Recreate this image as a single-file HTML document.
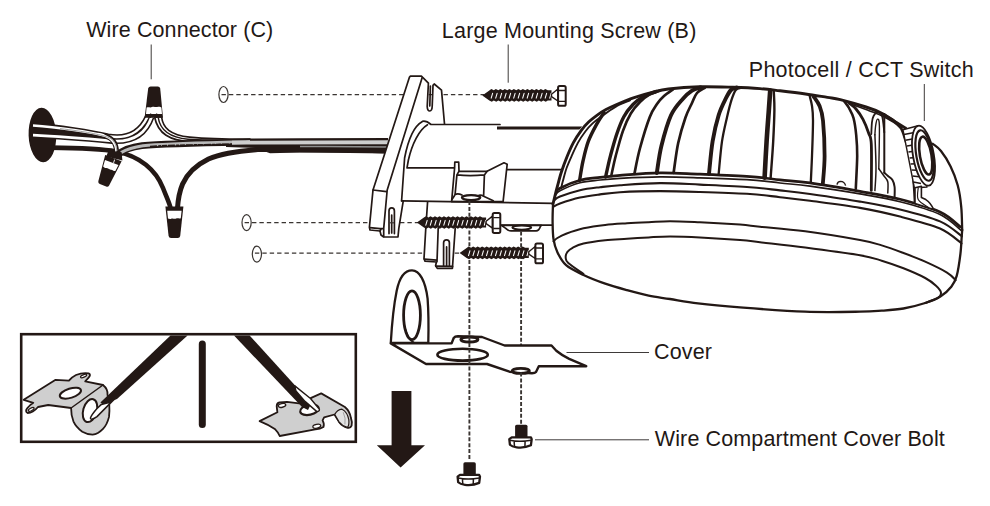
<!DOCTYPE html>
<html>
<head>
<meta charset="utf-8">
<title>Installation diagram</title>
<style>
html,body{margin:0;padding:0;background:#fff;}
body{width:990px;height:506px;overflow:hidden;font-family:"Liberation Sans",sans-serif;}
svg{display:block;}
.t{font-family:"Liberation Sans",sans-serif;font-size:21.5px;fill:#231815;}
.ln{fill:none;stroke:#231815;stroke-width:1.7;stroke-linecap:round;stroke-linejoin:round;}
.lw{fill:#fff;stroke:#231815;stroke-width:1.7;stroke-linecap:round;stroke-linejoin:round;}
.thin{fill:none;stroke:#3a3532;stroke-width:1.2;}
.lead{fill:none;stroke:#3e3a39;stroke-width:1;}
.dash{fill:none;stroke:#3a3532;stroke-width:1.2;stroke-dasharray:4.4 3;}
.k{fill:#231815;stroke:none;}
</style>
</head>
<body>
<svg width="990" height="506" viewBox="0 0 990 506">
<rect width="990" height="506" fill="#fff"/>
<!-- ===== LABELS ===== -->
<g id="labels">
<text class="t" x="86.2" y="37" textLength="187" lengthAdjust="spacing">Wire Connector (C)</text>
<text class="t" x="441.8" y="37.7" textLength="254.5" lengthAdjust="spacing">Large Mounting Screw (B)</text>
<text class="t" x="748.8" y="77" textLength="225" lengthAdjust="spacing">Photocell / CCT Switch</text>
<text class="t" x="654" y="359" textLength="58" lengthAdjust="spacing">Cover</text>
<text class="t" x="654.8" y="446" textLength="290" lengthAdjust="spacing">Wire Compartment Cover Bolt</text>
<path class="lead" d="M151.2 44.5V79.3M508.2 44.5V82.7M924.3 84V121M566.5 352.5H649M535 439.8H649"/>
</g>
<!-- ===== DASHED GUIDES ===== -->
<g id="guides">
<ellipse class="thin" cx="223.5" cy="94.5" rx="4.6" ry="8"/>
<ellipse class="thin" cx="246.6" cy="222.6" rx="4.6" ry="8"/>
<ellipse class="thin" cx="256.9" cy="254.1" rx="4.6" ry="8"/>
<path class="dash" d="M221.5 94.6H484M244.6 222.7H418M254.9 253.2H462"/>
</g>
<!-- ===== WIRES ===== -->
<g id="wires" fill="none" stroke-linecap="butt" stroke-linejoin="round">
<!-- wall hole -->
<ellipse cx="42.4" cy="135" rx="13.8" ry="27.2" fill="#231815" transform="rotate(-2 42.4 135)"/>
<!-- lower black wires to bottom connector -->
<path d="M50 147.6C75 147.9 100 148.4 116 151.4C140 156 156 170 163 188C166.4 197 169.6 203 170.8 209" stroke="#231815" stroke-width="4.6"/>
<path d="M177.4 209C178 200 179.6 191 182.6 184C188 172 197 164.6 208.5 159C220 154 238 151 257.7 149.6C275 149.4 300 150 330 150.2C355 150.4 375 150.6 388 150.9" stroke="#231815" stroke-width="5"/>
<!-- main bundle black base right side -->
<path d="M226 140L250 138.6L300 138.2L388 138V153.4C360 152.6 330 152.4 300 152.6L270 153.2L256 148L226 147Z" fill="#231815"/>
<!-- wedge filler between the two upper wires -->
<path d="M33 126C60 128 95 134 116 139.5L118 142.5C95 140 60 137 33 135.5Z" fill="#231815"/>
<!-- left tube wires (black outlines) -->
<path d="M33 125.4C58 127 92 132.4 108 136.2C126 139.4 140 133 147.4 117" stroke="#231815" stroke-width="5.6"/>
<path d="M33 135.2C58 136.4 92 139.2 112 141C130 142.2 145 136 151.6 117" stroke="#231815" stroke-width="5.8"/>
<path d="M33 125.4C58 127 92 132.4 108 136.2C126 139.4 140 133 147.4 117" stroke="#fff" stroke-width="2.5"/>
<path d="M33 135.2C58 136.4 92 139.2 112 141C130 142.2 145 136 151.6 117" stroke="#fff" stroke-width="2.7"/>
<!-- thin shaded wire curling down into C2 -->
<path d="M104 135.4C112 138 116 142 116.6 152" stroke="#231815" stroke-width="5"/>
<path d="M98 133.8C111 137 115.8 141.5 116.4 152" stroke="#fff" stroke-width="2.2"/>
<path d="M60 128.6C85 131.5 100 134.5 108 137.2C114 139.8 116.4 144 116.8 152" stroke="#8a8a8a" stroke-width="0.8"/>
<!-- right tube from top connector (tapered) -->
<path d="M161.6 117C163 128 170 135 189.6 137.2C205 138.6 225 139.3 250 139.2L250 139.8C230 141.4 205 142 190 141.6C170 140.6 158 134 154.6 117Z" fill="#fff" stroke="#231815" stroke-width="1.7"/>
<path d="M158.2 117.5C160 129.5 168 137.4 188 139.2C205 140.4 220 140.4 236 139.9" stroke="#231815" stroke-width="1.5"/>
<!-- main gray cable -->
<path d="M118 154.5C123 150 132 146.8 142 145.6C165 143.6 200 143 250 142" stroke="#231815" stroke-width="6.6"/>
<path d="M121 152.6C126 149.6 134 147 143 145.7C165 143.6 200 143 250 141.6" stroke="#b9b9b9" stroke-width="3"/>
<path d="M150 146.5C170 145.2 200 144.8 240 144" stroke="#231815" stroke-width="1.6" stroke-dasharray="7 1.2 3 0.8 5 1"/>
<path d="M232 142.7C290 142.3 350 142.2 388 142.2" stroke="#cdcdcd" stroke-width="3.9"/>
<path d="M300 146.6C330 146.4 360 146.6 388 147" stroke="#8f8f8f" stroke-width="1.5"/>
<!-- connectors -->
<g id="c1">
<path d="M148.2 88.5Q148.6 86.6 150.6 86.6H157.8Q159.8 86.6 160.2 88.5L163 117.8H144.6Z" fill="#231815"/>
<path d="M146.6 107.6C148.5 106.6 150 108 152 107C154 106.2 156 107.6 158 106.8C159.6 106.4 160.8 107.2 161.4 107.4L162 114H146Z" fill="#fff"/>
<path d="M150.6 113.6V118M156.6 113.6V118" stroke="#231815" stroke-width="1.3"/>
</g>
<g id="c3">
<path d="M174.2 196V208" stroke="#fff" stroke-width="1.3"/>
<path d="M165.4 206.4H183.4L180.2 236Q179.8 238 177.8 238H171Q169 238 168.6 236Z" fill="#231815"/>
<path d="M167.2 210.8H181.6L180.8 218.2C179.2 219.2 177.8 217.8 176.2 218.6C174.4 219.4 172.8 218 171.2 218.8C169.8 219.4 168.6 218.6 168 218.4Z" fill="#fff"/>
</g>
<path d="M108.6 150.6L121.6 152.2L122.4 160.4L106.2 156.6Z" fill="#231815"/>
<g id="c2" transform="translate(113.4 158.2) rotate(21)">
<path d="M-8.8 0H8.8L5.8 27Q5.4 29 3.4 29H-3.4Q-5.4 29 -5.8 27Z" fill="#231815"/>
<path d="M-7.2 4.6H7.2L6.4 11.2C4.8 12.2 3.4 10.8 1.8 11.6C0 12.4 -1.6 11 -3.2 11.8C-4.6 12.4 -5.8 11.6 -6.6 11.4Z" fill="#fff"/>
<path d="M1.6 0.8L1.8 4.2" stroke="#fff" stroke-width="0.9"/>
</g>
</g>
<!-- ===== MOUNTING BRACKET / ARM ===== -->
<defs>
<g id="screw">
  <path d="M0 0L7.0 -5L9.03 -6.3L11.50 -5.1L13.53 -6.3L16.00 -5.1L18.02 -6.3L20.50 -5.1L22.52 -6.3L25.00 -5.1L27.02 -6.3L29.50 -5.1L31.52 -6.3L34.00 -5.1L36.02 -6.3L38.50 -5.1L40.52 -6.3L43.00 -5.1L45.02 -6.3L47.50 -5.1L49.52 -6.3L52.00 -5.1L54.02 -6.3L56.50 -5.1L58.52 -6.3L61.00 -5.1L63.02 -6.3L65.50 -5.1L69.2 -5.1L69.2 5.1L65.50 5.1L63.48 6.3L61.00 5.1L61.00 5.1L58.98 6.3L56.50 5.1L56.50 5.1L54.48 6.3L52.00 5.1L52.00 5.1L49.98 6.3L47.50 5.1L47.50 5.1L45.48 6.3L43.00 5.1L43.00 5.1L40.98 6.3L38.50 5.1L38.50 5.1L36.48 6.3L34.00 5.1L34.00 5.1L31.98 6.3L29.50 5.1L29.50 5.1L27.48 6.3L25.00 5.1L25.00 5.1L22.98 6.3L20.50 5.1L20.50 5.1L18.48 6.3L16.00 5.1L16.00 5.1L13.97 6.3L11.50 5.1L11.50 5.1L9.47 6.3L7.00 5.1Z" fill="#231815"/>
  <path d="M8.90 2.7L10.30 -2.1M13.40 2.7L14.80 -2.1M17.90 2.7L19.30 -2.1M22.40 2.7L23.80 -2.1M26.90 2.7L28.30 -2.1M31.40 2.7L32.80 -2.1M35.90 2.7L37.30 -2.1M40.40 2.7L41.80 -2.1M44.90 2.7L46.30 -2.1M49.40 2.7L50.80 -2.1M53.90 2.7L55.30 -2.1M58.40 2.7L59.80 -2.1M62.90 2.7L64.30 -2.1M67.40 2.7L68.80 -2.1" fill="none" stroke="#fff" stroke-width="1.05" stroke-linecap="round"/>
  <path d="M69.2 -1.2L75.6 -6.4V5.6L69.2 1.2Z" fill="#fff" stroke="#231815" stroke-width="1.4" stroke-linejoin="round"/>
  <rect x="75.8" y="-9.4" width="7.6" height="19.8" rx="1.6" fill="#fff" stroke="#231815" stroke-width="2"/>
  <path d="M76.4 -4.9H83M76.4 6H83" stroke="#231815" stroke-width="1.4" fill="none"/>
</g>
</defs>
<g id="bracket">
<!-- lower bracket below arm -->
<path class="lw" d="M427.6 201.7L425.8 228L424 258.6L425 261.1L436.4 262L435.6 265.8L437.3 268.4H452.4L455.2 228.2H440L440 201.7Z" style="stroke:none"/>
<path class="ln" d="M427.6 201.7L425.8 228L424 258.6L425 261.1L436.4 262L435.6 265.8L437.3 268.4H452.4L455.2 228.2"/>
<path class="ln" d="M438.2 228.4L437 261.6M424.4 259.2L436.6 260.2M435.8 266.2L452.6 266.4" stroke-width="1.3"/>
<path class="ln" d="M443.6 266.2V242.8Q443.6 239.8 446.5 239.8Q449.4 239.8 449.4 242.8V266.2M446.6 246.9V266"/>
<!-- lower rail + tab -->
<path d="M501.3 225.2H552V203H501.3Z" fill="#fff"/>
<path class="lw" d="M501.3 225.4L505.8 228.4Q508 230.9 511.1 230.9H536Q539 230.6 540.4 226.4L541.4 225.4Z"/>
<ellipse cx="521.8" cy="227.6" rx="9.4" ry="2.1" fill="#fff" stroke="#231815" stroke-width="2"/>
<path class="ln" d="M501.3 225.2H552"/>
<!-- mounting plate -->
<path class="lw" d="M409.5 77.1L410.4 76.2H421.6L422.4 77.1L428.4 83.2L427.2 106.5Q427.4 111 429.8 111Q432 110.8 432.2 106.5L433 85.4L434.2 84L441.5 90.2L444.5 124L430 160L403.3 200.7L398.8 228.3L398 237H383.7L381 235L380 231L370 230L369.4 227.4L373 190Z"/>
<path class="ln" d="M422.2 77.6L387.2 190L383.7 228.3V236.5M373 190L386.6 191.6M369.8 227.6L380 228.6L383.7 228.3M380 231L381.2 228.8"/>
<path class="ln" d="M430.4 86L429.8 106" stroke-width="1.2"/>
<path class="ln" d="M389 233.6V211Q389 207.8 391.7 207.8Q394.4 207.8 394.4 211V233.6M391.7 215V233"/>
<path class="dash" d="M389.6 222.8H394" />
<!-- arm housing -->
<path d="M431 124.5C428 122 425.4 120.6 422.4 121.4C414 126 408 140 404.6 158L401.6 200.8L560 203.3V124.5Z" fill="#fff"/>
<path class="ln" d="M500 124.5H431C428 122 425.4 120.6 422.4 121.4C414 126 408 140 404.6 158L401.6 200.8"/>
<path class="ln" d="M427.5 124.8C419 130 412 144 408.4 160L407 167.8H454.4"/>
<path d="M497 128H582" fill="none" stroke="#231815" stroke-width="3.2"/>
<path class="ln" d="M507.2 169.6H562"/>
<!-- bump / boss on arm -->
<path class="lw" d="M454.6 168L454.8 162.1H458.7L459 171.3H487.1L504 162.8L507.2 164.2L503.1 201.6H451.6Z"/>
<path class="ln" d="M456.9 174.9Q470 176.4 484.4 174.9L483.6 196.2L493.3 200.7M456.9 174.9L455.1 194.4Q454 197 451.8 199.6M484.4 174.9L487.1 171.3M456.9 174.9L458.9 171.3M455.1 194.4Q458 193 462 195M483.6 196.2Q481 194.6 479 195.4"/>
<ellipse cx="471.1" cy="197.6" rx="9.2" ry="2.5" fill="#fff" stroke="#231815" stroke-width="2.2"/>
<path class="ln" d="M401.6 200.9L553 203.3"/>
<!-- vertical dashed guides -->
<path class="dash" d="M469.4 201V340M521.1 231.5V345" stroke-width="1.5" style="stroke-width:1.9;stroke-dasharray:4 1.9"/>
<!-- screws -->
<use href="#screw" transform="translate(482.3 95.4)"/>
<use href="#screw" transform="translate(416.9 222.5)"/>
<use href="#screw" transform="translate(459.6 252.9)"/>
</g>
<!-- ===== LAMP HEAD ===== -->
<g id="lamp">
<path d="M553.0 204.0C553.5 202.2 555.0 197.4 556.0 193.0C557.0 188.6 558.1 182.9 559.3 177.6C560.5 172.3 561.9 165.6 563.3 161.0C564.6 156.4 565.8 153.8 567.4 150.0C569.0 146.2 570.5 142.6 573.2 138.5C575.9 134.4 579.1 129.6 583.4 125.2C587.7 120.8 593.4 115.7 599.0 112.0C604.6 108.3 609.7 106.0 617.0 103.0C624.3 100.0 634.1 96.3 642.7 94.0C651.3 91.7 658.9 90.3 668.4 89.0C677.9 87.7 688.9 86.8 699.6 86.4C710.3 86.1 719.4 86.2 732.8 86.9C746.2 87.6 768.2 89.6 780.0 90.8C791.8 92.0 795.8 92.8 803.7 94.0C811.6 95.2 819.5 96.3 827.4 98.0C835.3 99.7 843.1 101.8 851.0 104.0C858.9 106.2 867.8 108.5 874.9 111.0C882.0 113.5 888.6 116.3 893.7 119.0C898.8 121.7 901.5 126.1 905.5 127.3C909.5 128.5 913.5 123.2 918.0 126.0C922.5 128.8 929.0 139.6 932.8 143.8C936.6 148.0 938.0 147.2 941.0 151.0C944.0 154.8 947.8 160.7 950.6 166.4C953.4 172.1 955.9 178.6 957.7 185.3C959.5 192.0 960.5 199.2 961.2 206.6C962.0 214.0 962.0 226.1 962.2 230.0C962.1 231.1 962.0 232.7 961.7 236.7C961.4 240.7 961.2 247.5 960.4 254.0C959.6 260.5 958.2 270.4 956.7 275.9C955.2 281.3 954.0 283.3 951.3 286.7C948.6 290.1 944.8 293.8 940.4 296.5C936.0 299.2 931.4 301.0 925.2 303.0C919.1 305.0 910.8 307.2 903.5 308.5C896.2 309.8 889.0 310.2 881.7 310.7C874.5 311.2 872.8 311.5 860.0 311.7C847.2 311.9 825.0 312.4 805.0 311.7C785.0 311.0 757.8 308.8 740.0 307.4C722.2 306.0 709.7 304.8 698.0 303.4C686.3 302.0 678.2 300.3 670.0 299.0C661.8 297.7 655.9 297.2 648.7 295.7C641.5 294.2 634.2 292.2 627.0 290.2C619.8 288.2 612.5 286.2 605.2 283.7C598.0 281.2 590.0 278.1 583.5 275.0C577.0 271.9 570.5 269.0 566.1 265.2C561.8 261.4 559.5 256.6 557.4 252.2C555.3 247.8 554.3 244.2 553.5 239.1C552.7 234.0 552.7 227.5 552.6 221.7C552.5 215.8 552.9 206.9 553.0 204.0Z" fill="#fff" stroke="none"/>
<path d="M553.0 204.0C553.4 202.3 554.7 196.9 555.4 194.0C556.1 191.1 556.4 190.0 557.4 186.3C558.4 182.6 559.8 176.8 561.4 172.0C563.0 167.2 564.8 162.1 566.8 157.2C568.8 152.3 571.0 147.1 573.4 142.6C575.8 138.1 578.8 133.7 581.3 130.3C583.8 126.9 586.0 124.5 588.6 122.0C591.2 119.5 594.0 117.4 596.9 115.3C599.8 113.2 602.9 111.3 606.0 109.6C609.1 107.9 610.8 107.0 615.5 105.0C620.2 103.0 628.1 99.7 634.2 97.6C640.3 95.5 646.3 93.8 652.0 92.4C657.7 91.0 660.5 89.9 668.4 89.0C676.3 88.1 688.9 87.1 699.6 86.8C710.3 86.5 722.7 87.0 732.8 87.3C742.9 87.6 752.1 88.0 760.0 88.6C767.9 89.2 772.4 89.9 780.0 90.8C787.6 91.7 797.6 92.9 805.5 94.0C813.4 95.1 821.6 96.5 827.4 97.4C833.2 98.3 833.9 98.0 840.3 99.6C846.7 101.2 859.2 104.8 866.0 107.0C872.8 109.2 876.1 110.4 881.2 113.0C886.3 115.6 892.4 120.1 896.4 122.6C900.4 125.1 904.0 127.1 905.5 128.0" fill="none" stroke="#231815" stroke-width="2.9" stroke-linecap="round" stroke-linejoin="round" />
<path d="M561.4 187.4C561.6 186.5 561.7 185.3 562.6 182.1C563.5 178.9 565.0 172.5 566.6 168.0C568.2 163.5 570.1 159.4 572.0 155.2C573.9 151.0 575.8 146.6 578.0 142.6C580.2 138.6 583.1 134.5 585.5 131.3C587.9 128.1 590.0 125.8 592.6 123.4C595.2 121.0 597.2 119.6 601.0 116.8C604.8 114.0 610.7 109.5 615.5 106.8C620.3 104.1 627.6 101.5 630.0 100.4" fill="none" stroke="#231815" stroke-width="1.9" stroke-linecap="round" stroke-linejoin="round" />
<path d="M852.0 104.6C854.3 105.4 861.1 107.8 866.0 109.6C870.9 111.4 876.6 113.3 881.2 115.4C885.8 117.5 890.4 120.2 893.7 122.4C897.0 124.6 899.8 127.4 901.0 128.4" fill="none" stroke="#231815" stroke-width="1.6" stroke-linecap="round" stroke-linejoin="round" />
<path d="M962.2 230.0C962.1 231.1 962.0 232.7 961.7 236.7C961.4 240.7 961.2 247.5 960.4 254.0C959.6 260.5 958.2 270.4 956.7 275.9C955.2 281.3 954.0 283.3 951.3 286.7C948.6 290.1 944.8 293.8 940.4 296.5C936.0 299.2 931.4 301.0 925.2 303.0C919.1 305.0 910.8 307.2 903.5 308.5C896.2 309.8 889.0 310.2 881.7 310.7C874.5 311.2 872.8 311.5 860.0 311.7C847.2 311.9 825.0 312.4 805.0 311.7C785.0 311.0 757.8 308.8 740.0 307.4C722.2 306.0 709.7 304.8 698.0 303.4C686.3 302.0 678.2 300.3 670.0 299.0C661.8 297.7 655.9 297.2 648.7 295.7C641.5 294.2 634.2 292.2 627.0 290.2C619.8 288.2 612.5 286.2 605.2 283.7C598.0 281.2 590.0 278.1 583.5 275.0C577.0 271.9 570.5 269.0 566.1 265.2C561.8 261.4 559.5 256.6 557.4 252.2C555.3 247.8 554.3 244.2 553.5 239.1C552.7 234.0 552.7 227.5 552.6 221.7C552.5 215.8 552.9 206.9 553.0 204.0" fill="none" stroke="#231815" stroke-width="2.3" stroke-linecap="round" stroke-linejoin="round" />
<path d="M932.8 143.8C934.2 145.0 938.0 147.2 941.0 151.0C944.0 154.8 947.8 160.7 950.6 166.4C953.4 172.1 955.9 178.6 957.7 185.3C959.5 192.0 960.5 199.2 961.2 206.6C962.0 214.0 962.0 226.1 962.2 230.0" fill="none" stroke="#231815" stroke-width="2.3" stroke-linecap="round" stroke-linejoin="round" />
<path d="M556.5 192.0C557.1 191.4 556.1 190.1 560.0 188.2C563.9 186.2 573.3 182.1 580.0 180.3C586.7 178.5 593.3 178.2 600.0 177.4C606.7 176.6 610.0 176.2 620.0 175.4C630.0 174.6 646.7 173.0 660.0 172.8C673.3 172.6 685.0 173.6 700.0 174.2C715.0 174.8 736.7 175.6 750.0 176.6C763.3 177.6 770.0 178.8 780.0 179.9C790.0 181.0 796.7 181.0 810.0 182.9C823.3 184.8 845.0 188.6 860.0 191.3C875.0 194.0 886.7 195.8 900.0 199.2C913.3 202.6 929.9 207.3 940.0 211.9C950.1 216.5 957.0 224.4 960.4 226.9" fill="none" stroke="#231815" stroke-width="2.7" stroke-linecap="round" stroke-linejoin="round" />
<path d="M555.6 195.0C556.3 194.3 555.9 192.7 560.0 190.7C564.1 188.7 573.3 184.6 580.0 182.8C586.7 181.0 593.3 180.8 600.0 180.0C606.7 179.2 610.0 178.8 620.0 178.3C630.0 177.8 646.7 177.0 660.0 176.9C673.3 176.8 685.0 177.3 700.0 177.8C715.0 178.3 736.7 178.9 750.0 179.8C763.3 180.7 770.0 181.9 780.0 183.0C790.0 184.1 796.7 184.3 810.0 186.1C823.3 187.9 845.0 191.3 860.0 193.9C875.0 196.5 886.7 198.4 900.0 201.8C913.3 205.2 929.7 209.6 940.0 214.5C950.3 219.4 958.3 228.2 962.0 231.0" fill="none" stroke="#231815" stroke-width="1.7" stroke-linecap="round" stroke-linejoin="round" />
<path d="M554.0 200.4C555.0 199.8 555.7 198.3 560.0 196.6C564.3 194.9 573.3 191.8 580.0 190.2C586.7 188.6 593.3 188.0 600.0 187.2C606.7 186.4 610.0 185.9 620.0 185.2C630.0 184.5 646.7 183.2 660.0 183.1C673.3 183.0 685.0 183.9 700.0 184.6C715.0 185.3 736.7 186.2 750.0 187.2C763.3 188.2 770.0 189.3 780.0 190.4C790.0 191.5 796.7 192.1 810.0 194.0C823.3 195.9 845.0 199.0 860.0 201.6C875.0 204.2 886.7 206.2 900.0 209.5C913.3 212.8 929.7 217.0 940.0 221.4C950.3 225.8 958.2 233.7 961.8 236.2" fill="none" stroke="#231815" stroke-width="2.1" stroke-linecap="round" stroke-linejoin="round" />
<path d="M553.2 207.0C554.3 206.4 555.5 205.2 560.0 203.6C564.5 202.0 573.3 199.1 580.0 197.6C586.7 196.1 593.3 195.3 600.0 194.4C606.7 193.5 610.0 192.8 620.0 192.2C630.0 191.6 646.7 191.1 660.0 191.1C673.3 191.1 685.0 191.5 700.0 192.0C715.0 192.5 736.7 193.1 750.0 194.0C763.3 194.9 770.0 196.1 780.0 197.2C790.0 198.3 796.7 199.0 810.0 200.8C823.3 202.6 845.0 205.3 860.0 207.9C875.0 210.5 886.7 213.2 900.0 216.6C913.3 220.0 929.8 224.1 940.0 228.5C950.2 232.9 957.9 240.8 961.5 243.3" fill="none" stroke="#231815" stroke-width="2.1" stroke-linecap="round" stroke-linejoin="round" />
<path d="M553.5 241.3C554.1 240.8 555.3 239.3 557.4 238.0C559.5 236.7 561.8 235.3 566.1 233.7C570.5 232.1 577.0 229.8 583.5 228.3C590.0 226.9 598.0 225.8 605.2 225.0C612.5 224.2 619.8 223.8 627.0 223.3C634.2 222.8 641.5 222.5 648.7 222.2C655.9 221.9 661.5 221.3 670.0 221.3C678.5 221.3 688.3 221.8 700.0 222.3C711.7 222.9 730.0 223.9 740.0 224.6C750.0 225.3 749.1 225.6 760.0 226.7C770.9 227.8 788.5 229.1 805.2 231.3C821.9 233.5 847.2 237.7 860.0 240.0C872.8 242.3 874.5 243.2 881.7 245.4C889.0 247.6 896.2 250.3 903.5 253.0C910.8 255.7 918.0 258.4 925.2 261.7C932.5 265.0 941.9 269.5 947.0 272.6C952.1 275.7 954.2 278.9 955.7 280.2" fill="none" stroke="#231815" stroke-width="2.0" stroke-linecap="round" stroke-linejoin="round" />
<path d="M583.5 274.0C581.0 272.2 571.3 265.7 568.3 263.0C565.3 260.3 565.9 259.4 565.7 257.6C565.5 255.8 566.1 253.8 567.2 252.2C568.4 250.6 569.9 249.2 572.6 247.8C575.3 246.4 578.1 244.8 583.5 243.5C588.9 242.2 598.0 241.0 605.2 240.2C612.5 239.4 619.8 239.2 627.0 238.7C634.2 238.2 641.5 237.8 648.7 237.4C655.9 237.0 661.5 236.5 670.0 236.5C678.5 236.5 688.3 236.8 700.0 237.4C711.7 238.0 730.0 239.2 740.0 240.0C750.0 240.8 749.1 240.9 760.0 242.2C770.9 243.5 788.5 245.4 805.2 247.6C821.9 249.8 847.2 253.0 860.0 255.2C872.8 257.4 874.5 258.5 881.7 260.7C889.0 262.9 896.2 265.4 903.5 268.3C910.8 271.2 919.8 275.1 925.2 278.0C930.6 280.9 933.4 283.3 936.0 285.7C938.6 288.1 940.5 290.2 940.9 292.2C941.3 294.2 940.9 295.8 938.3 297.6C935.7 299.4 927.4 302.1 925.2 303.0" fill="none" stroke="#231815" stroke-width="2.0" stroke-linecap="round" stroke-linejoin="round" />
<path d="M579.6 180.4C580.2 177.2 581.5 167.5 583.0 161.0C584.5 154.5 586.0 147.6 588.3 141.4C590.6 135.2 594.4 128.4 597.0 123.6C599.6 118.8 602.8 114.4 604.0 112.6" fill="none" stroke="#231815" stroke-width="3.4" stroke-linecap="round" stroke-linejoin="round" />
<path d="M605.6 177.0C606.4 173.4 608.6 162.7 610.5 155.6C612.4 148.5 614.5 140.6 616.7 134.2C618.9 127.8 621.0 122.0 623.7 117.0C626.4 112.0 629.8 107.8 633.0 104.5C636.2 101.2 638.9 99.2 642.7 97.0C646.5 94.8 653.8 92.5 656.0 91.6" fill="none" stroke="#231815" stroke-width="3.4" stroke-linecap="round" stroke-linejoin="round" />
<path d="M611.2 176.0C612.0 172.6 613.8 163.2 615.8 155.6C617.8 148.0 620.5 137.7 623.0 130.7C625.5 123.7 628.0 118.3 630.8 113.5C633.6 108.7 636.8 105.2 640.0 102.0C643.2 98.8 646.5 96.3 649.8 94.4C653.1 92.5 658.3 91.2 660.0 90.6" fill="none" stroke="#231815" stroke-width="2.6" stroke-linecap="round" stroke-linejoin="round" />
<path d="M634.4 173.8C635.3 169.6 637.3 158.0 639.9 148.5C642.5 139.0 646.9 124.4 649.8 117.0C652.6 109.6 654.6 107.5 657.0 104.0C659.4 100.5 661.3 98.4 664.0 96.0C666.7 93.6 671.5 90.5 673.0 89.4" fill="none" stroke="#231815" stroke-width="2.7" stroke-linecap="round" stroke-linejoin="round" />
<path d="M656.8 173.0C657.6 168.5 659.0 155.6 661.4 146.0C663.8 136.4 667.4 123.2 671.0 115.3C674.6 107.4 679.5 102.8 683.0 98.7C686.5 94.6 689.1 92.5 692.0 90.6C694.9 88.7 699.2 87.9 700.6 87.4" fill="none" stroke="#231815" stroke-width="3.9" stroke-linecap="round" stroke-linejoin="round" />
<path d="M673.6 172.8C674.4 167.8 676.2 152.2 678.2 143.0C680.2 133.8 683.1 124.4 685.4 117.7C687.7 111.0 690.1 107.1 692.0 103.0C693.9 98.9 694.8 95.6 697.0 93.0C699.2 90.4 703.7 88.5 705.0 87.6" fill="none" stroke="#231815" stroke-width="2.7" stroke-linecap="round" stroke-linejoin="round" />
<path d="M709.0 173.8C709.6 168.4 711.0 151.2 712.6 141.4C714.2 131.7 716.4 122.4 718.6 115.3C720.8 108.2 723.6 102.9 725.7 98.7C727.8 94.5 729.2 91.8 731.0 90.0C732.8 88.2 735.7 88.0 736.6 87.6" fill="none" stroke="#231815" stroke-width="3.9" stroke-linecap="round" stroke-linejoin="round" />
<path d="M718.6 174.4C719.2 168.9 720.6 150.8 722.0 141.4C723.4 132.0 725.3 124.7 726.9 117.7C728.5 110.8 730.1 104.3 731.6 99.7C733.1 95.1 734.2 92.0 735.8 90.0C737.4 88.0 740.1 88.2 741.0 87.8" fill="none" stroke="#231815" stroke-width="2.3" stroke-linecap="round" stroke-linejoin="round" />
<path d="M764.6 177.6C764.9 171.6 765.9 152.6 766.6 141.4C767.3 130.2 768.2 119.1 768.8 110.6C769.4 102.1 770.0 93.9 770.2 90.6" fill="none" stroke="#231815" stroke-width="4.6" stroke-linecap="round" stroke-linejoin="round" />
<path d="M770.6 178.4C771.0 172.2 772.6 152.8 773.2 141.4C773.8 130.0 774.3 118.3 774.4 110.0C774.5 101.7 773.9 94.5 773.8 91.4" fill="none" stroke="#231815" stroke-width="2.4" stroke-linecap="round" stroke-linejoin="round" />
<path d="M810.8 182.6C811.0 178.2 811.6 166.3 812.0 156.0C812.4 145.7 813.0 128.9 813.0 120.6C813.0 112.3 812.6 110.2 812.0 106.0C811.4 101.8 810.0 97.3 809.6 95.6" fill="none" stroke="#231815" stroke-width="2.3" stroke-linecap="round" stroke-linejoin="round" />
<path d="M822.8 184.2C823.1 179.5 824.6 166.6 824.6 156.0C824.6 145.4 823.8 128.9 823.0 120.6C822.2 112.3 821.2 110.0 819.6 106.0C818.0 102.0 814.6 98.0 813.6 96.4" fill="none" stroke="#231815" stroke-width="3.8" stroke-linecap="round" stroke-linejoin="round" />
<path d="M855.8 188.6C856.0 183.2 857.1 164.9 857.2 156.0C857.3 147.1 856.8 141.3 856.2 135.0C855.6 128.7 854.7 122.5 853.5 118.0C852.3 113.5 850.5 110.8 849.0 108.0C847.5 105.2 845.2 102.5 844.4 101.4" fill="none" stroke="#231815" stroke-width="2.6" stroke-linecap="round" stroke-linejoin="round" />
<path d="M871.3 190.4C871.3 182.7 871.8 153.9 871.3 144.3C870.8 134.7 870.0 137.2 868.6 133.0C867.2 128.8 865.1 123.4 863.0 119.4C860.9 115.4 858.3 111.7 856.0 109.0C853.7 106.3 850.5 104.3 849.4 103.4" fill="none" stroke="#231815" stroke-width="2.8" stroke-linecap="round" stroke-linejoin="round" />
<path d="M871.3 134.0C871.4 132.0 871.6 125.0 872.0 122.0C872.4 119.0 872.8 117.4 873.7 115.8C874.6 114.2 875.8 112.3 877.2 112.3C878.6 112.3 880.8 112.4 882.0 115.8C883.2 119.2 883.9 129.6 884.3 132.4" fill="none" stroke="#231815" stroke-width="1.8" stroke-linecap="round" stroke-linejoin="round" />
<path d="M884.3 114.0C884.3 123.8 884.3 162.9 884.3 172.7" fill="none" stroke="#231815" stroke-width="2.0" stroke-linecap="round" stroke-linejoin="round" />
<path d="M884.3 172.7C884.9 173.2 886.6 174.8 888.0 176.0C889.4 177.2 891.5 178.4 892.6 180.2C893.7 182.0 894.3 184.3 894.6 187.0C894.9 189.7 894.6 194.9 894.6 196.5" fill="none" stroke="#231815" stroke-width="2.0" stroke-linecap="round" stroke-linejoin="round" />
<path d="M874.9 134.8C875.0 133.3 875.2 128.6 875.6 126.0C876.0 123.4 876.8 119.2 877.4 119.2C878.0 119.2 879.2 117.8 879.4 126.0C879.6 134.2 878.9 161.6 878.8 168.7" fill="none" stroke="#231815" stroke-width="1.4" stroke-linecap="round" stroke-linejoin="round" />
<path d="M878.8 168.7C879.7 169.9 882.5 173.8 884.0 176.0C885.5 178.2 887.2 179.2 887.8 182.0C888.4 184.8 887.8 191.2 887.8 193.0" fill="none" stroke="#231815" stroke-width="1.5" stroke-linecap="round" stroke-linejoin="round" />
<path d="M874.9 134.8C875.1 140.3 876.0 158.7 876.0 168.0C876.0 177.3 875.1 186.8 874.9 190.6" fill="none" stroke="#231815" stroke-width="1.5" stroke-linecap="round" stroke-linejoin="round" />
<path d="M837 184.6Q837.4 181.6 840.6 181.4Q844.4 181.4 845.6 185.6" fill="#fff" stroke="#231815" stroke-width="1.4"/>
<path d="M884.3 114.6C885.9 115.6 890.9 118.2 893.7 120.4C896.5 122.6 899.0 124.7 901.0 128.0C903.0 131.3 903.8 135.1 905.5 140.3C907.2 145.5 910.1 152.1 911.5 159.2C912.9 166.3 913.2 175.8 913.8 183.0C914.4 190.2 914.8 199.3 915.0 202.6" fill="none" stroke="#231815" stroke-width="2.6" stroke-linecap="round" stroke-linejoin="round" />
<path d="M903 129.8L918 125.8L927 187L914.4 188Z" fill="#fff" stroke="#231815" stroke-width="1.4" stroke-linejoin="round"/>
<path d="M904 134.4L917 132M905.4 140.2L916.4 138.2M907 146L916 144.6M908.4 152L916 151M909.6 158L916 157.4M910.6 164L916.4 163.8M911.6 170L917.4 170.2M912.6 176L919 176.8M913.4 182L921 183.4" fill="none" stroke="#231815" stroke-width="1.5"/>
<path d="M915 187.7V203.6L933.6 209.6Q931 203 925.8 199.6L921.4 197.6V186.4Z" fill="#fff" stroke="#231815" stroke-width="1.6" stroke-linejoin="round"/>
<path d="M918.2 188.0C918.2 189.9 916.5 196.2 918.2 199.5C919.9 202.8 926.9 206.2 928.6 207.6" fill="none" stroke="#231815" stroke-width="1.2" stroke-linecap="round" stroke-linejoin="round" />
<g transform="rotate(-10 923.5 155.7)">
<ellipse cx="923.5" cy="155.7" rx="10.4" ry="30.4" fill="#fff" stroke="#231815" stroke-width="1.8"/>
<ellipse cx="924.6" cy="155.7" rx="8.2" ry="25.6" fill="#fff" stroke="#231815" stroke-width="2.2"/>
<ellipse cx="925.7" cy="156" rx="5.8" ry="19.2" fill="#fff" stroke="#231815" stroke-width="2.6"/>
</g>
</g>
<!-- ===== COVER PLATE + BOLTS ===== -->
<g id="cover">
<!-- upright ring tab -->
<path class="lw" d="M390.8 342.8C392 322 394 304 396.7 290.8C399.5 277 405 270.3 412 270.3C419.6 270.3 425.4 281 427.6 298.6C428.6 312 428.6 330 428.3 342.8Z" style="stroke-width:2.3"/>
<ellipse cx="412" cy="315.2" rx="8.4" ry="24.4" fill="#fff" stroke="#231815" stroke-width="2.8"/>
<path class="ln" d="M404.6 327Q408 340 413.6 342.4" stroke-width="1.3"/>
<!-- flat plate -->
<path class="lw" d="M390.8 343.4H451.6L453.7 338Q455 336.2 457.8 336.2L482 337L504.6 345.5H551.5L556.3 350.7Q562 355.4 569.2 358.8L586.2 366.2H538.8L536 372Q535 373.2 532 373.2L509.5 371.7L487 364H426Z" style="stroke-width:2.4"/>
<ellipse cx="462.6" cy="354.7" rx="25.2" ry="5.9" fill="#fff" stroke="#231815" stroke-width="2.6"/>
<ellipse cx="469.4" cy="339.5" rx="8.6" ry="2.5" fill="#fff" stroke="#231815" stroke-width="2.8"/>
<ellipse cx="520.8" cy="370.9" rx="8.6" ry="2.5" fill="#fff" stroke="#231815" stroke-width="2.8"/>
<path class="dash" d="M469.4 337V459M521.1 372.5V424" style="stroke-width:1.9;stroke-dasharray:4 1.9"/>
<!-- bolts -->
<g id="bolt1" transform="translate(469.6 462.3)">
<path d="M-6.2 1.6Q-6.2 0 -4.6 0H4.6Q6.2 0 6.2 1.6V13.5H-6.2Z" fill="#231815"/>
<path d="M-12 14.4L-9.6 12.6H9.6L10.4 14.4L9.6 20.6Q3 23.6 -4.6 22.6Q-9.4 22 -11.4 20Z" fill="#fff" stroke="#231815" stroke-width="2.3" stroke-linejoin="round"/>
<path d="M-11.6 15.6Q-2 17.6 10 15.6M-7.2 16.4L-6.8 21.8M3.8 16.6L3.6 22.6" fill="none" stroke="#231815" stroke-width="1.5"/>
</g>
<g id="bolt2" transform="translate(521.3 424.7)">
<path d="M-6.2 1.6Q-6.2 0 -4.6 0H4.6Q6.2 0 6.2 1.6V13.5H-6.2Z" fill="#231815"/>
<path d="M-12 14.4L-9.6 12.6H9.6L10.4 14.4L9.6 20.6Q3 23.6 -4.6 22.6Q-9.4 22 -11.4 20Z" fill="#fff" stroke="#231815" stroke-width="2.3" stroke-linejoin="round"/>
<path d="M-11.6 15.6Q-2 17.6 10 15.6M-7.2 16.4L-6.8 21.8M3.8 16.6L3.6 22.6" fill="none" stroke="#231815" stroke-width="1.5"/>
</g>
</g>
<!-- ===== INSET BOX ===== -->
<g id="inset">
<rect x="21.2" y="334.2" width="334.6" height="107.6" fill="#fff" stroke="#231815" stroke-width="2.6"/>
<path d="M202.3 344V424.5" fill="none" stroke="#231815" stroke-width="7" stroke-linecap="round"/>
<!-- left clip -->
<g stroke="#231815" stroke-width="1.8" stroke-linejoin="round" stroke-linecap="round">
<path d="M23.7 399.8L55.6 379.8L68.9 380.6Q72 377 76 375Q82 372.6 88.6 373.4Q91.4 374.6 88.6 377.6L85.2 381.3L103 385Q108 389 107.5 394.7Q110.4 405 109 416.9Q107 425 103 428.8Q98 434 92.6 434.7Q87 434.4 82.3 431.7Q76 427 73.4 421.3Q71 415 71.1 408L48.2 405L38 407Q33 413 27.6 413Q24.6 411.4 27.4 408Q30 404.8 33.3 402.8Z" fill="#cfcfcf"/>
<path d="M71.1 408L103 385" fill="none" stroke-width="1.5"/>
<ellipse cx="70.4" cy="393.2" rx="11" ry="4.6" transform="rotate(-17 70.4 393.2)" fill="#fff" stroke-width="2"/>
<ellipse cx="90" cy="410.6" rx="6.8" ry="11.8" transform="rotate(16 90 410.6)" fill="#fff" stroke-width="2"/>
<ellipse cx="83.6" cy="376" rx="3.2" ry="1.3" transform="rotate(-22 83.6 376)" fill="#fff" stroke-width="1.3"/>
<ellipse cx="31.2" cy="409.4" rx="3.2" ry="1.3" transform="rotate(-30 31.2 409.4)" fill="#fff" stroke-width="1.3"/>
</g>
<!-- left screwdriver -->
<path d="M170.5 335.5H187.6L117 399L103 404.6L100.4 402.4Z" fill="#231815"/>
<path d="M120 393.4L97 416.6Q91 420.8 90.4 418.2Q90.8 415.8 96.8 408.8L101.4 404.4L110 402.2Z" fill="#fff" stroke="#231815" stroke-width="1.5" stroke-linejoin="round"/>
<!-- right clip -->
<g stroke="#231815" stroke-width="1.8" stroke-linejoin="round" stroke-linecap="round">
<path d="M259.6 421.1L277.4 412.3L276.7 406.3Q276.6 403 279.6 402.4L287 401.9L299 403.4Q306 401 312.3 397.4L321.2 393.4L344.9 407Q349.6 411 350.8 417.4Q352.4 422 351.6 425.6Q350.4 428.4 347.8 427.8Q342 426 339 421.9L334.5 414.5L324.1 417.4L322.6 420.4Q324.6 424 323.4 427.1Q320 429.4 315.2 429.3L279.7 436Q278 432 275.2 429.3Q268 424.4 259.6 421.1Z" fill="#cfcfcf"/>
<path d="M334.8 414.6Q337 409.6 342 409.2Q347.4 412 348.8 419.6Q349.4 425.4 347.4 427.4Q342 426 339 421.9Z" fill="#e2e2e2" stroke-width="1.2"/>
<path d="M343.4 412.6Q346 418 345 424" fill="none" stroke="#9a9a9a" stroke-width="0.9"/>
<ellipse cx="309.4" cy="409.8" rx="9.4" ry="5" transform="rotate(-12 309.4 409.8)" fill="#fff" stroke-width="2.2"/>
<ellipse cx="282" cy="405.4" rx="3.8" ry="1.9" transform="rotate(-12 282 405.4)" fill="#fff" stroke-width="1.3"/>
<ellipse cx="316.8" cy="426.2" rx="4" ry="1.9" transform="rotate(-12 316.8 426.2)" fill="#fff" stroke-width="1.3"/>
</g>
<!-- right screwdriver -->
<path d="M234 335.5H249.6L301 392L311 404L308 410L302 407Z" fill="#231815"/>
<path d="M294.5 385.6L310.5 398.5L319.4 409.2Q319.6 411.6 316.6 411.4L305 401.4L296 391Z" fill="#fff" stroke="#231815" stroke-width="1.4" stroke-linejoin="round"/>
</g>
<!-- ===== ARROW ===== -->
<path class="k" d="M391.6 391H411.4V445.3H425L400.6 467.6L376.8 445.3H391.6Z"/>
</svg>
</body>
</html>
